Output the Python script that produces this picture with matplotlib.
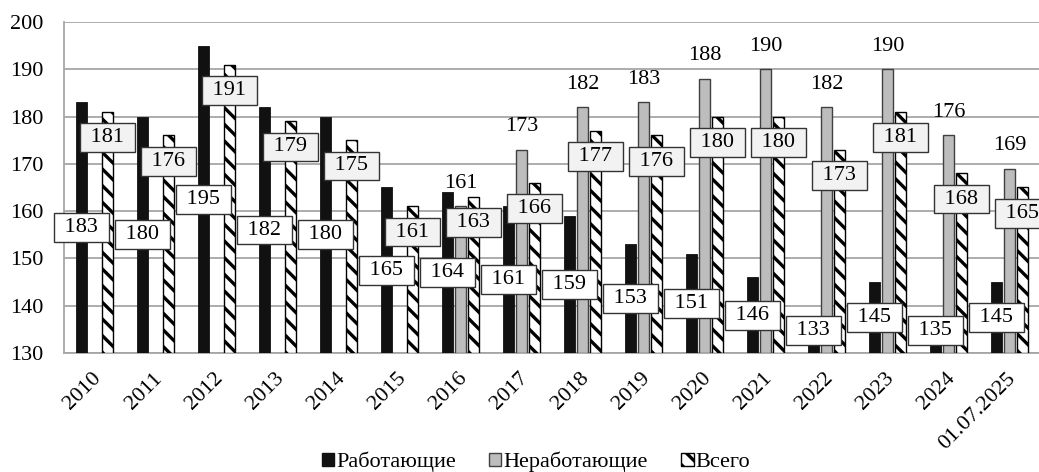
import numpy as np
import matplotlib
matplotlib.use("Agg")
import matplotlib.pyplot as plt
import matplotlib.transforms as mtrans
from matplotlib.patches import Patch

categories = ["2010", "2011", "2012", "2013", "2014", "2015", "2016", "2017",
              "2018", "2019", "2020", "2021", "2022", "2023", "2024", "01.07.2025"]
working = [183, 180, 195, 182, 180, 165, 164, 161, 159, 153, 151, 146, 133, 145, 135, 145]
nonworking = [np.nan, np.nan, np.nan, np.nan, np.nan, np.nan,
              161, 173, 182, 183, 188, 190, 182, 190, 176, 169]
total = [181, 176, 191, 179, 175, 161, 163, 166, 177, 176, 180, 180, 173, 181, 168, 165]
series_names = ["Работающие", "Неработающие", "Всего"]

plt.rcParams['font.family'] = ['Liberation Serif', 'DejaVu Serif']
plt.rcParams['hatch.linewidth'] = 2.4

fig = plt.figure(figsize=(10.39, 4.72), dpi=100)
ax = fig.add_axes([64/1039, 119/472, 976/1039, 331/472])

x = np.arange(len(categories))
w = 0.165
off = 0.213
ymin, ymax = 130, 200

ax.bar(x - off, [v - ymin for v in working], w, bottom=ymin, color="#111111",
       edgecolor="#111111", linewidth=0.6, zorder=3)
nw = np.array(nonworking, dtype=float)
ax.bar(x, nw - ymin, w, bottom=ymin, color="#bdbdbd", edgecolor="#404040",
       linewidth=1.0, zorder=3)
ax.bar(x + off, [v - ymin for v in total], w, bottom=ymin, color="white",
       edgecolor="black", hatch="\\\\", linewidth=1.0, zorder=3)

fs = 16
for i, v in enumerate(working):
    yc = max(ymin + (v - ymin) / 2, 134.7)
    ax.text(x[i] - off, yc, f" {v} ", ha="center", va="center", fontsize=fs,
            zorder=6, bbox=dict(boxstyle="square,pad=0.22", fc="white",
                                ec="#333333", lw=1.0))
for i, v in enumerate(nonworking):
    if np.isnan(v):
        continue
    ax.annotate(f"{int(v)}", (x[i], v), xytext=(0, 16.5), textcoords="offset points",
                ha="center", va="center", fontsize=fs, zorder=6)
for i, v in enumerate(total):
    ax.annotate(f" {v} ", (x[i] + off, v), xytext=(0, -18.5), textcoords="offset points",
                ha="center", va="center", fontsize=fs, zorder=7,
                bbox=dict(boxstyle="square,pad=0.22", fc="#f2f2f2", ec="#333333", lw=1.0))

ax.set_xlim(-0.5, len(categories) - 0.5)
ax.set_ylim(ymin, ymax)
ax.set_yticks(range(130, 201, 10))
ax.yaxis.grid(True, color="#a6a6a6", linewidth=1.3, zorder=0)
ax.set_axisbelow(True)
for s in ["top", "right"]:
    ax.spines[s].set_visible(False)
for s in ["left", "bottom"]:
    ax.spines[s].set_color("#a6a6a6")
    ax.spines[s].set_linewidth(1.3)
ax.tick_params(axis="both", length=0, labelsize=fs)
ax.tick_params(axis="y", pad=15)
ax.set_xticks(x)
ax.set_xticklabels(categories, rotation=45, ha="right", va="top",
                   rotation_mode="anchor")
for lab in ax.get_xticklabels():
    lab.set_transform(lab.get_transform() + mtrans.ScaledTranslation(-3/100, -11/100, fig.dpi_scale_trans))

handles = [Patch(facecolor="#111111", edgecolor="#111111"),
           Patch(facecolor="#bdbdbd", edgecolor="#404040"),
           Patch(facecolor="white", edgecolor="black", hatch="\\\\")]
fig.legend(handles, series_names, loc="center", bbox_to_anchor=(536/1039, 1 - 462/472),
           ncol=3, frameon=False, fontsize=fs, handlelength=0.55, handleheight=0.55,
           handletextpad=0.1, columnspacing=1.5, borderpad=0)

fig.savefig("out.png", dpi=100)
